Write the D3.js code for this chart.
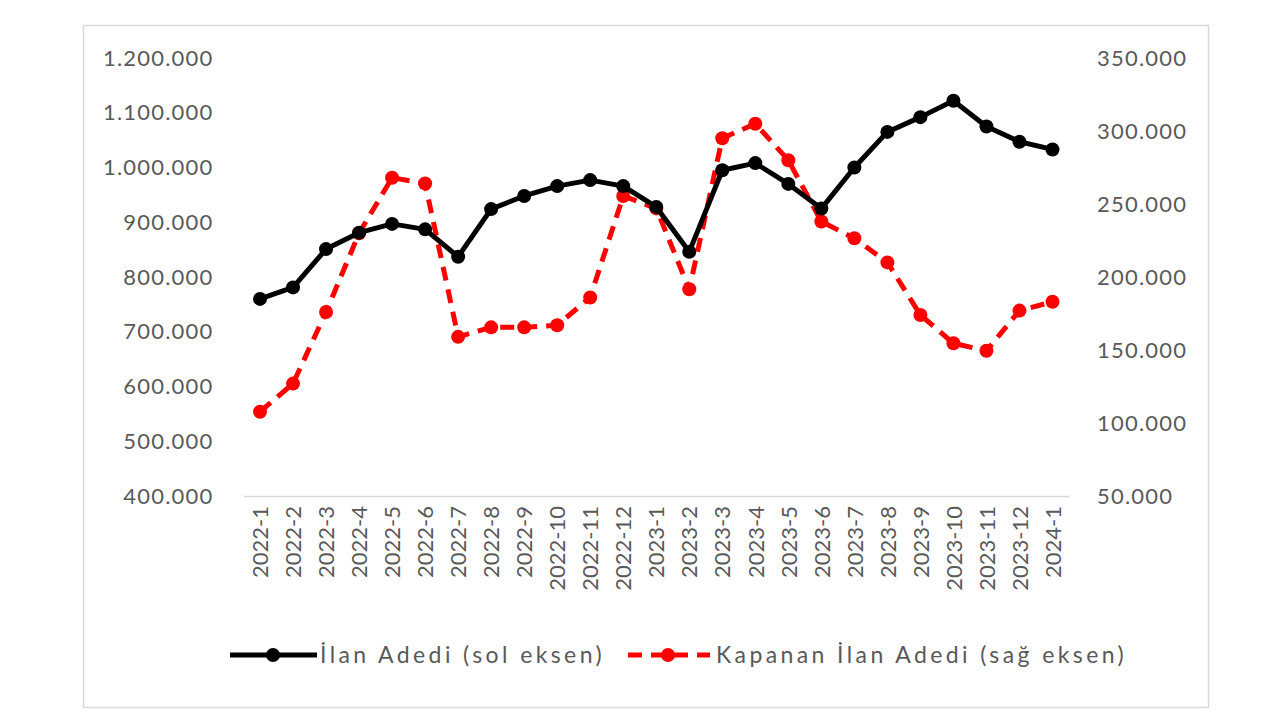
<!DOCTYPE html>
<html>
<head>
<meta charset="utf-8">
<script src="https://cdn.jsdelivr.net/npm/d3@7"></script>
<style>
  html, body { margin: 0; padding: 0; background: #ffffff; }
  svg { display: block; }
  text { font-family: Lato, "Open Sans", sans-serif; fill: #595959; }
</style>
</head>
<body>
<svg id="chart" width="1280" height="726"></svg>
<script>
const categories = ["2022-1","2022-2","2022-3","2022-4","2022-5","2022-6","2022-7","2022-8","2022-9","2022-10","2022-11","2022-12",
  "2023-1","2023-2","2023-3","2023-4","2023-5","2023-6","2023-7","2023-8","2023-9","2023-10","2023-11","2023-12","2024-1"];
const ilanAdedi = [760000, 781000, 851000, 881000, 897000, 887000, 837000, 924000, 948000, 966000, 977000, 966000,
  928000, 846000, 995000, 1008000, 970000, 925000, 1000000, 1065000, 1092000, 1122000, 1075000, 1047000, 1033000];
const kapananIlan = [107700, 127000, 176000, 230000, 268000, 264000, 159000, 165500, 165500, 167000, 186000, 255500,
  247000, 191600, 295000, 305000, 280000, 238000, 226500, 210000, 174000, 154600, 149500, 177000, 183000];
const leftTicks = [400000, 500000, 600000, 700000, 800000, 900000, 1000000, 1100000, 1200000];
const rightTicks = [50000, 100000, 150000, 200000, 250000, 300000, 350000];
const seriesNames = ["İlan Adedi (sol eksen)", "Kapanan İlan Adedi (sağ eksen)"];

const svg = d3.select("#chart");
const trLocale = d3.formatLocale({decimal: ",", thousands: ".", grouping: [3], currency: ["", " ₺"]});
const fmt = trLocale.format(",");

// outer border
svg.append("rect").attr("x", 83.5).attr("y", 25.5).attr("width", 1125).attr("height", 682)
  .attr("fill", "#fff").attr("stroke", "#d9d9d9").attr("stroke-width", 1.5);

const plotLeft = 243.5, plotRight = 1069, plotTop = 58, plotBottom = 496;

const x = d3.scalePoint().domain(categories).range([plotLeft, plotRight]).padding(0.5);
const yL = d3.scaleLinear().domain([400000, 1200000]).range([plotBottom, plotTop]);
const yR = d3.scaleLinear().domain([50000, 350000]).range([plotBottom, plotTop]);

// left axis
const gL = svg.append("g").attr("transform", `translate(${plotLeft},0)`)
  .call(d3.axisLeft(yL).tickValues(leftTicks).tickSize(0).tickPadding(30).tickFormat(fmt));
gL.select(".domain").remove();
gL.selectAll("text").style("font-size", "22px").style("letter-spacing", "1.2px").style("font-family", "Lato").attr("fill", "#595959");

// right axis
const gR = svg.append("g").attr("transform", `translate(${plotRight},0)`)
  .call(d3.axisRight(yR).tickValues(rightTicks).tickSize(0).tickPadding(28).tickFormat(fmt));
gR.select(".domain").remove();
gR.selectAll("text").style("font-size", "22px").style("letter-spacing", "1.2px").style("font-family", "Lato").attr("fill", "#595959");

// bottom axis
const gB = svg.append("g").attr("transform", `translate(0,${plotBottom})`)
  .call(d3.axisBottom(x).tickSize(0));
gB.select(".domain").attr("stroke", "#d9d9d9").attr("stroke-width", 1.5);
gB.selectAll("text")
  .attr("transform", "rotate(-90)")
  .attr("text-anchor", "end")
  .attr("x", -10).attr("y", 0).attr("dy", "0.35em")
  .style("font-size", "22px").style("font-family", "Lato").attr("fill", "#595959");

// red series (right axis)
const lineR = d3.line().x((d, i) => x(categories[i])).y(d => yR(d));
svg.append("path").datum(kapananIlan).attr("d", lineR)
  .attr("fill", "none").attr("stroke", "#ff0000").attr("stroke-width", 5)
  .attr("stroke-dasharray", "14,9").attr("stroke-linejoin", "round");
svg.append("g").selectAll("circle").data(kapananIlan).join("circle")
  .attr("cx", (d, i) => x(categories[i])).attr("cy", d => yR(d)).attr("r", 7).attr("fill", "#ff0000");

// black series (left axis)
const lineL = d3.line().x((d, i) => x(categories[i])).y(d => yL(d));
svg.append("path").datum(ilanAdedi).attr("d", lineL)
  .attr("fill", "none").attr("stroke", "#000").attr("stroke-width", 5).attr("stroke-linejoin", "round");
svg.append("g").selectAll("circle").data(ilanAdedi).join("circle")
  .attr("cx", (d, i) => x(categories[i])).attr("cy", d => yL(d)).attr("r", 7).attr("fill", "#000");

// legend
const legY = 655;
const lg1 = svg.append("g");
lg1.append("line").attr("x1", 230).attr("x2", 317).attr("y1", legY).attr("y2", legY).attr("stroke", "#000").attr("stroke-width", 5);
lg1.append("circle").attr("cx", 273).attr("cy", legY).attr("r", 7).attr("fill", "#000");
lg1.append("text").attr("x", 320).attr("y", legY).attr("dy", "0.35em").text(seriesNames[0])
  .style("font-size", "23px").style("letter-spacing", "3.4px");

const lg2 = svg.append("g");
lg2.append("line").attr("x1", 628).attr("x2", 710).attr("y1", legY).attr("y2", legY).attr("stroke", "#ff0000").attr("stroke-width", 5).attr("stroke-dasharray", "14,9");
lg2.append("circle").attr("cx", 668).attr("cy", legY).attr("r", 7).attr("fill", "#ff0000");
lg2.append("text").attr("x", 716).attr("y", legY).attr("dy", "0.35em").text(seriesNames[1])
  .style("font-size", "23px").style("letter-spacing", "3.4px");
</script>
</body>
</html>
